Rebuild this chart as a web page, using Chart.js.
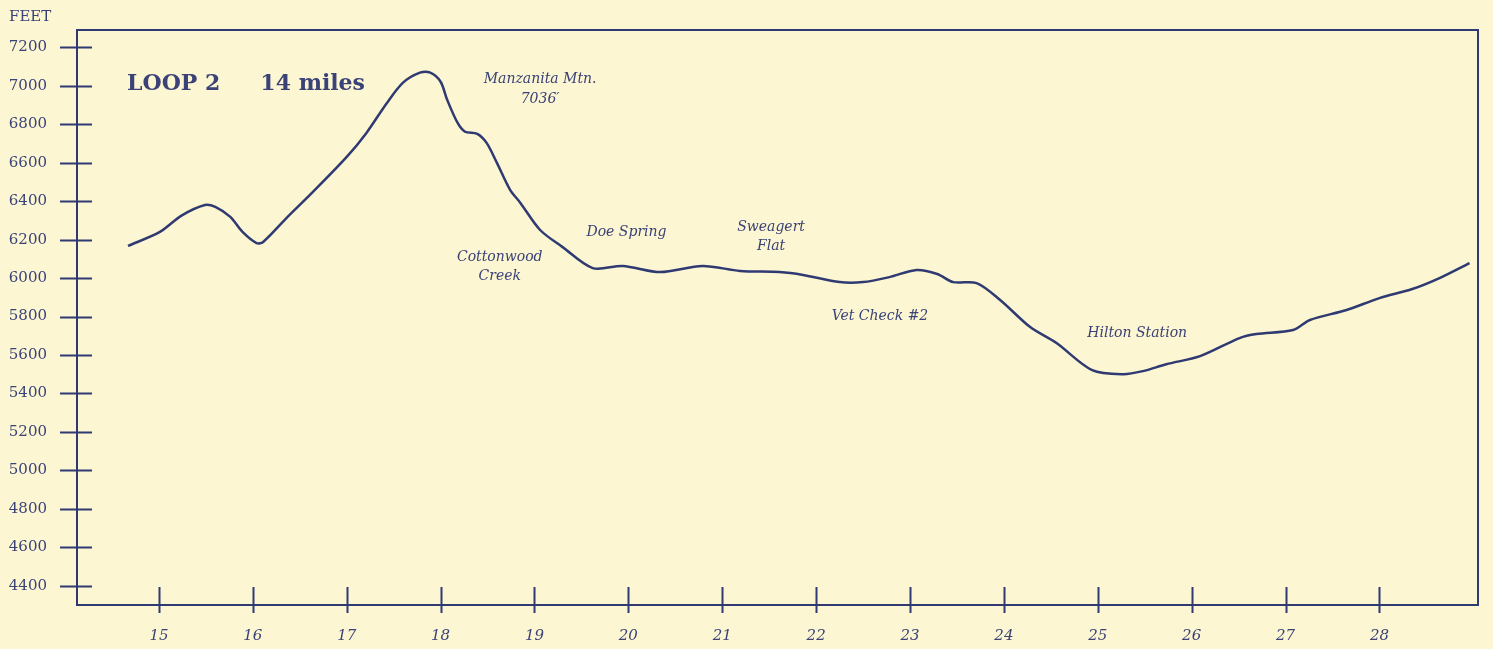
<!DOCTYPE html>
<html>
<head>
<meta charset="utf-8">
<title>Loop 2 elevation profile</title>
<script src="https://cdn.jsdelivr.net/npm/chart.js@4.4.1/dist/chart.umd.min.js"></script>
<style>
  html, body { margin: 0; padding: 0; background: #fcf6d2; }
  #wrap { position: relative; width: 1493px; height: 649px; }
</style>
</head>
<body>
<div id="wrap"><canvas id="profile"></canvas></div>
<script>
// Elevation profile, Loop 2 (miles along the ride vs feet)
const miles = [14.67, 15.01, 15.24, 15.49, 15.60, 15.76, 15.89, 16.04, 16.11, 16.36,
  16.64, 17.00, 17.21, 17.43, 17.60, 17.78, 17.89, 18.00, 18.07, 18.18,
  18.26, 18.39, 18.49, 18.60, 18.74, 18.85, 19.06, 19.30, 19.62, 19.94,
  20.34, 20.79, 21.19, 21.61, 21.86, 22.25, 22.50, 22.78, 23.07, 23.29,
  23.46, 23.71, 23.96, 24.28, 24.56, 24.94, 25.27, 25.48, 25.73, 26.09,
  26.51, 26.69, 27.08, 27.26, 27.65, 28.00, 28.35, 28.64, 28.96];
const feet = [6167, 6240, 6325, 6380, 6370, 6318, 6240, 6182, 6188, 6313,
  6448, 6630, 6755, 6912, 7016, 7068, 7068, 7021, 6927, 6808,
  6761, 6750, 6703, 6599, 6459, 6391, 6250, 6161, 6052, 6063,
  6031, 6063, 6037, 6031, 6016, 5979, 5979, 6005, 6042, 6021,
  5979, 5974, 5886, 5745, 5662, 5521, 5500, 5516, 5552, 5594,
  5688, 5709, 5730, 5782, 5834, 5896, 5943, 6000, 6078];

const xTickValues = [15, 16, 17, 18, 19, 20, 21, 22, 23, 24, 25, 26, 27, 28];
const yTickValues = [4400, 4600, 4800, 5000, 5200, 5400, 5600, 5800, 6000,
  6200, 6400, 6600, 6800, 7000, 7200];

// place names along the trail (centered at mile / feet)
const placeNames = ['Manzanita Mtn.', '7036\u2032', 'Cottonwood', 'Creek', 'Doe Spring',
  'Sweagert', 'Flat', 'Vet Check #2', 'Hilton Station'];
const placeMiles = [19.06, 19.06, 18.63, 18.63, 19.98, 21.52, 21.52, 22.68, 25.42];
const placeFeet = [7032, 6927, 6109, 6010, 6240, 6266, 6167, 5802, 5713];

const titleParts = ['LOOP 2', '14 miles'];
const titleMiles = [14.66, 16.08];
const titleFeet = 7006;

const INK = '#2f3a72';
const TEXT = '#3a4277';
const SERIF = '"DejaVu Serif", "Liberation Serif", serif';

// no label overflow room: the frame sits at fixed edges
const noPad = (s) => { s.paddingTop = 0; s.paddingBottom = 0; s.paddingLeft = 0; s.paddingRight = 0; };

const crossTicks = {
  id: 'crossTicks',
  afterDraw(chart) {
    const { ctx } = chart;
    const x = chart.scales.x;
    const y = chart.scales.y;
    ctx.save();
    ctx.strokeStyle = INK;
    ctx.lineWidth = 2;
    ctx.beginPath();
    yTickValues.forEach(v => {
      const py = Math.round(y.getPixelForValue(v)) + 0.5;
      ctx.moveTo(x.left - 17, py);
      ctx.lineTo(x.left + 15, py);
    });
    xTickValues.forEach(v => {
      const px = Math.round(x.getPixelForValue(v)) + 0.5;
      ctx.moveTo(px, y.bottom - 18);
      ctx.lineTo(px, y.bottom + 8);
    });
    ctx.stroke();

    ctx.fillStyle = TEXT;
    ctx.font = '15px ' + SERIF;
    ctx.textAlign = 'left';
    ctx.textBaseline = 'middle';
    ctx.fillText('FEET', 9, 17);

    ctx.font = 'bold 22px ' + SERIF;
    titleParts.forEach((t, i) => {
      ctx.fillText(t, x.getPixelForValue(titleMiles[i]), y.getPixelForValue(titleFeet));
    });

    ctx.font = 'italic 14px ' + SERIF;
    ctx.textAlign = 'center';
    placeNames.forEach((t, i) => {
      ctx.fillText(t, x.getPixelForValue(placeMiles[i]), y.getPixelForValue(placeFeet[i]));
    });
    ctx.restore();
  }
};

new Chart(document.getElementById('profile'), {
  type: 'line',
  data: {
    datasets: [{
      data: miles.map((m, i) => ({ x: m, y: feet[i] })),
      borderColor: INK,
      borderWidth: 2.5,
      pointRadius: 0,
      tension: 0.3,
      fill: false,
    }],
  },
  options: {
    responsive: true,
    maintainAspectRatio: false,
    animation: false,
    layout: { padding: { top: 30, right: 15, left: 0, bottom: 0 } },
    plugins: { legend: { display: false }, tooltip: { enabled: false } },
    scales: {
      x: {
        type: 'linear',
        min: 14.127,
        max: 29.05,
        afterBuildTicks: (s) => { s.ticks = xTickValues.map(v => ({ value: v })); },
        afterFit: (s) => { s.height = 44; noPad(s); },
        grid: { display: false, drawTicks: false },
        border: { color: INK, width: 2 },
        ticks: {
          color: TEXT,
          padding: 22,
          maxRotation: 0,
          autoSkip: false,
          callback: (v) => String(v),
          font: { family: SERIF, size: 15, style: 'italic' },
        },
      },
      y: {
        min: 4300,
        max: 7290,
        afterBuildTicks: (s) => { s.ticks = yTickValues.map(v => ({ value: v })); },
        afterFit: (s) => { s.width = 77; noPad(s); },
        grid: { display: false, drawTicks: false },
        border: { color: INK, width: 2 },
        ticks: {
          color: TEXT,
          padding: 30,
          autoSkip: false,
          callback: (v) => String(v),
          font: { family: SERIF, size: 15 },
        },
      },
      xTop: {
        type: 'linear',
        position: 'top',
        min: 14.127,
        max: 29.05,
        afterFit: (s) => { s.height = 0; noPad(s); },
        grid: { display: false, drawTicks: false },
        border: { color: INK, width: 2 },
        ticks: { display: false },
      },
      yRight: {
        position: 'right',
        min: 4300,
        max: 7290,
        afterFit: (s) => { s.width = 0; noPad(s); },
        grid: { display: false, drawTicks: false },
        border: { color: INK, width: 2 },
        ticks: { display: false },
      },
    },
  },
  plugins: [crossTicks],
});
</script>
</body>
</html>
